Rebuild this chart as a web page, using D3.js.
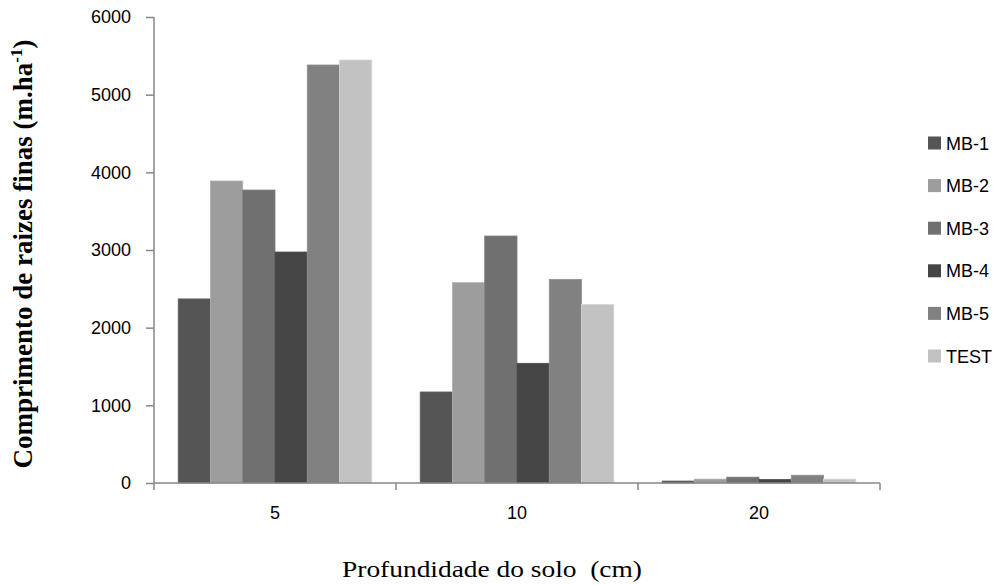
<!DOCTYPE html>
<meta charset="utf-8">
<style>
  html, body { margin: 0; padding: 0; background: #fff; }
</style>
<body>
<svg id="chart" width="1000" height="585"></svg>
<script src="https://cdn.jsdelivr.net/npm/d3@7"></script>
<script>
  // data
  var depths = ["5", "10", "20"];
  var series = ["MB-1", "MB-2", "MB-3", "MB-4", "MB-5", "TEST"];
  var mb1 = [2370, 1172, 25];
  var mb2 = [3888, 2579, 50];
  var mb3 = [3772, 3180, 75];
  var mb4 = [2974, 1541, 45];
  var mb5 = [5382, 2622, 100];
  var test = [5446, 2300, 50];
  var yTicks = [0, 1000, 2000, 3000, 4000, 5000, 6000];
  var colors = ["#555555", "#9d9d9d", "#707070", "#454545", "#818181", "#c2c2c2"];

  var values = [mb1, mb2, mb3, mb4, mb5, test];

  var svg = d3.select("#chart");
  var plotL = 154, plotR = 880, plotT = 17, plotB = 483;
  var sans = "'Liberation Sans', Arial, sans-serif";
  var serif = "'Liberation Serif', 'Times New Roman', serif";

  var x = d3.scaleBand().domain(depths).range([plotL, plotR]);
  // gap width about 150% of a bar
  var xs = d3.scaleBand().domain(series).range([0, x.bandwidth()])
    .paddingInner(0).paddingOuter(0.75);
  var y = d3.scaleLinear().domain([0, 6000]).range([plotB, plotT]);

  // bars
  series.forEach(function (s, si) {
    svg.append("g").selectAll("rect")
      .data(values[si])
      .enter().append("rect")
      .attr("x", function (d, i) { return x(depths[i]) + xs(s); })
      .attr("y", function (d) { return y(d); })
      .attr("width", xs.bandwidth())
      .attr("height", function (d) { return plotB - y(d); })
      .attr("fill", colors[si])
      .attr("stroke", d3.color(colors[si]).brighter(0.3))
      .attr("stroke-width", 0.8);
  });

  // y axis
  var yAxis = svg.append("g")
    .attr("transform", "translate(" + plotL + ",0)")
    .call(d3.axisLeft(y).tickValues(yTicks).tickSize(8).tickPadding(15).tickFormat(d3.format("d")));
  yAxis.selectAll("line, path").attr("stroke", "#878787").attr("stroke-width", 1.5);
  yAxis.select(".domain").attr("d", "M0," + plotT + "V" + plotB);
  yAxis.selectAll("text")
    .attr("font-family", sans)
    .attr("font-size", 18).attr("fill", "#000");

  // x axis: ticks at band boundaries
  var xAxis = svg.append("g").attr("transform", "translate(0," + plotB + ")");
  xAxis.append("path")
    .attr("d", "M" + plotL + ",0H" + plotR)
    .attr("stroke", "#878787").attr("stroke-width", 1.5).attr("fill", "none");
  var bounds = depths.map(function (d) { return x(d); }).concat([plotR]);
  xAxis.selectAll("line.tk").data(bounds).enter().append("line")
    .attr("x1", function (d) { return d; }).attr("x2", function (d) { return d; })
    .attr("y1", 0).attr("y2", 7)
    .attr("stroke", "#878787").attr("stroke-width", 1.5);
  xAxis.selectAll("text").data(depths).enter().append("text")
    .attr("x", function (d) { return x(d) + x.bandwidth() / 2; })
    .attr("y", 36)
    .attr("text-anchor", "middle")
    .attr("font-family", sans)
    .attr("font-size", 18)
    .text(function (d) { return d; });

  // axis titles
  var yt = svg.append("text")
    .attr("transform", "translate(32,254) rotate(-90)")
    .attr("text-anchor", "middle")
    .attr("font-family", serif)
    .attr("font-weight", "bold")
    .attr("font-size", 27);
  yt.append("tspan").text("Comprimento de raizes finas (m.ha");
  yt.append("tspan").attr("dy", -10).attr("font-size", 17).text("-1");
  yt.append("tspan").attr("dy", 10).text(")");

  svg.append("text")
    .attr("x", 492).attr("y", 577)
    .attr("text-anchor", "middle")
    .attr("font-family", serif)
    .attr("font-size", 24)
    .attr("textLength", 300)
    .attr("lengthAdjust", "spacingAndGlyphs")
    .attr("xml:space", "preserve")
    .text("Profundidade do solo  (cm)");

  // legend
  var legend = svg.append("g");
  var ly = d3.scalePoint().domain(series).range([143, 356]);
  series.forEach(function (s, si) {
    legend.append("rect")
      .attr("x", 928).attr("y", ly(s) - 6.5)
      .attr("width", 13).attr("height", 13)
      .attr("fill", colors[si]);
    legend.append("text")
      .attr("x", 946).attr("y", ly(s) + 6.5)
      .attr("font-family", sans)
      .attr("font-size", 18)
      .text(s);
  });
</script>
</body>
